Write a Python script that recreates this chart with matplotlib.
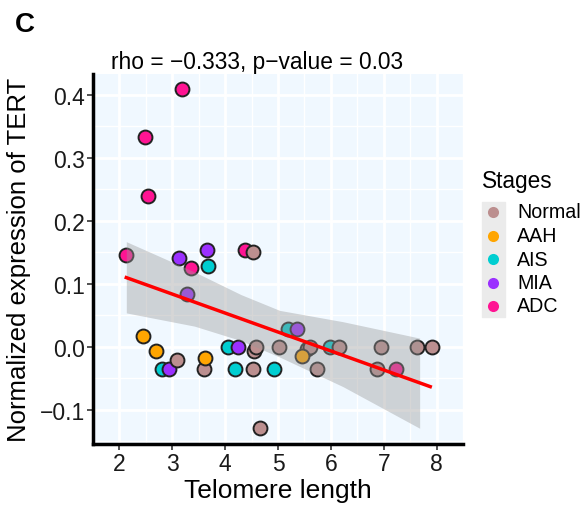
import numpy as np
import matplotlib.pyplot as plt
from matplotlib.lines import Line2D
from matplotlib.patches import Rectangle

plt.rcParams['font.family'] = ['Liberation Sans', 'DejaVu Sans']

# points per stage
normal_x = [4.53, 3.09, 3.60, 4.53, 4.55, 4.58, 5.01, 4.65, 5.55, 5.60, 5.73, 6.16, 6.95, 6.87, 7.63, 7.91]
normal_y = [0.151, -0.021, -0.035, -0.035, -0.007, 0.0, 0.0, -0.128, -0.004, 0.0, -0.035, 0.0, 0.0, -0.035, 0.0, 0.0]
aah_x = [2.45, 2.70, 3.61, 5.46]
aah_y = [0.017, -0.006, -0.018, -0.014]
ais_x = [3.68, 2.81, 4.06, 4.19, 4.92, 5.18, 5.98]
ais_y = [0.129, -0.035, 0.0, -0.035, -0.035, 0.028, 0.0]
mia_x = [3.13, 3.65, 3.27, 2.93, 4.24, 5.35]
mia_y = [0.141, 0.154, 0.084, -0.035, 0.0, 0.028]
adc_x = [3.18, 2.48, 2.54, 2.13, 4.38, 3.36, 7.23]
adc_y = [0.409, 0.333, 0.24, 0.146, 0.154, 0.125, -0.035]

# fit line and confidence band
fit_x = [2.13, 7.88]
fit_y = [0.110, -0.063]
band_x = [2.13, 3.42, 4.3, 5.03, 6.23, 7.68]
band_hi = [0.167, 0.119, 0.083, 0.058, 0.040, 0.014]
band_lo = [0.054, 0.033, 0.010, -0.016, -0.063, -0.129]

stages = ['Normal', 'AAH', 'AIS', 'MIA', 'ADC']
colors = {'Normal': '#BC8F8F', 'AAH': '#FFA500', 'AIS': '#00CED1',
          'MIA': '#9B30FF', 'ADC': '#FF1493'}
pts = {'Normal': (normal_x, normal_y), 'AAH': (aah_x, aah_y),
       'AIS': (ais_x, ais_y), 'MIA': (mia_x, mia_y), 'ADC': (adc_x, adc_y)}

W, H = 580, 506
fig = plt.figure(figsize=(W / 100, H / 100), dpi=100)
ax = fig.add_axes([93 / W, 1 - 445 / H, 370 / W, 370 / H])
ax.set_facecolor('#F0F8FF')

for s in ['ADC', 'AIS', 'MIA', 'Normal', 'AAH']:
    x, y = pts[s]
    ax.scatter(x, y, s=100, c=colors[s], edgecolors='#222222', linewidths=1.4, zorder=3)

ax.fill_between(band_x, band_lo, band_hi, color='#999999', alpha=0.4, lw=0, zorder=4)
ax.plot(fit_x, fit_y, color='red', lw=2.5, zorder=5)

ax.set_xlim(1.68, 8.31)
ax.set_ylim(-0.154, 0.433)
ax.set_xticks(range(2, 9))
ax.set_yticks([-0.1, 0.0, 0.1, 0.2, 0.3, 0.4])
ax.set_xticks(np.arange(1.5, 8.6, 1), minor=True)
ax.set_yticks([-0.15, -0.05, 0.05, 0.15, 0.25, 0.35], minor=True)
ax.grid(True, which='major', color='white', lw=2)
ax.grid(True, which='minor', color='white', lw=1)
ax.set_axisbelow(True)
ax.tick_params(which='minor', length=0)
ax.tick_params(which='major', length=4, width=1.2, labelsize=16.5,
               color='#333333', labelcolor='#1A1A1A', pad=2)

for sp in ['top', 'right']:
    ax.spines[sp].set_visible(False)
for sp in ['left', 'bottom']:
    ax.spines[sp].set_linewidth(2.5)

ax.set_xlabel('Telomere length', fontsize=19)
ax.set_ylabel('Normalized expression of TERT', fontsize=18.5)
ax.xaxis.set_label_coords(0.5, (445 - 491) / 370)
ax.xaxis.label.set_va('center')
ax.yaxis.set_label_coords((19 - 93) / 370, 0.5)
ax.yaxis.label.set_va('center')

fig.text(257 / W, 1 - 63 / H, 'rho = \u22120.333, p\u2212value = 0.03',
         fontsize=16.4, ha='center', va='center')
fig.text(15 / W, 1 - 25 / H, 'C', fontsize=20, fontweight='bold',
         ha='left', va='center')

# legend
fig.patches.append(Rectangle((482 / W, 1 - 318 / H), 23 / W, 115 / H,
                             transform=fig.transFigure, color='#EBEBEB', zorder=0))
fig.text(482 / W, 1 - 182 / H, 'Stages', fontsize=16.3, ha='left', va='center')
for i, s in enumerate(stages):
    yy = 1 - (213 + 23.5 * i) / H
    fig.add_artist(Line2D([493 / W], [yy], marker='o', ls='', markersize=8,
                          markerfacecolor=colors[s], markeredgewidth=0,
                          transform=fig.transFigure))
    fig.text(517 / W, yy, s, fontsize=14.1, ha='left', va='center')

fig.savefig('out.png', dpi=100)
